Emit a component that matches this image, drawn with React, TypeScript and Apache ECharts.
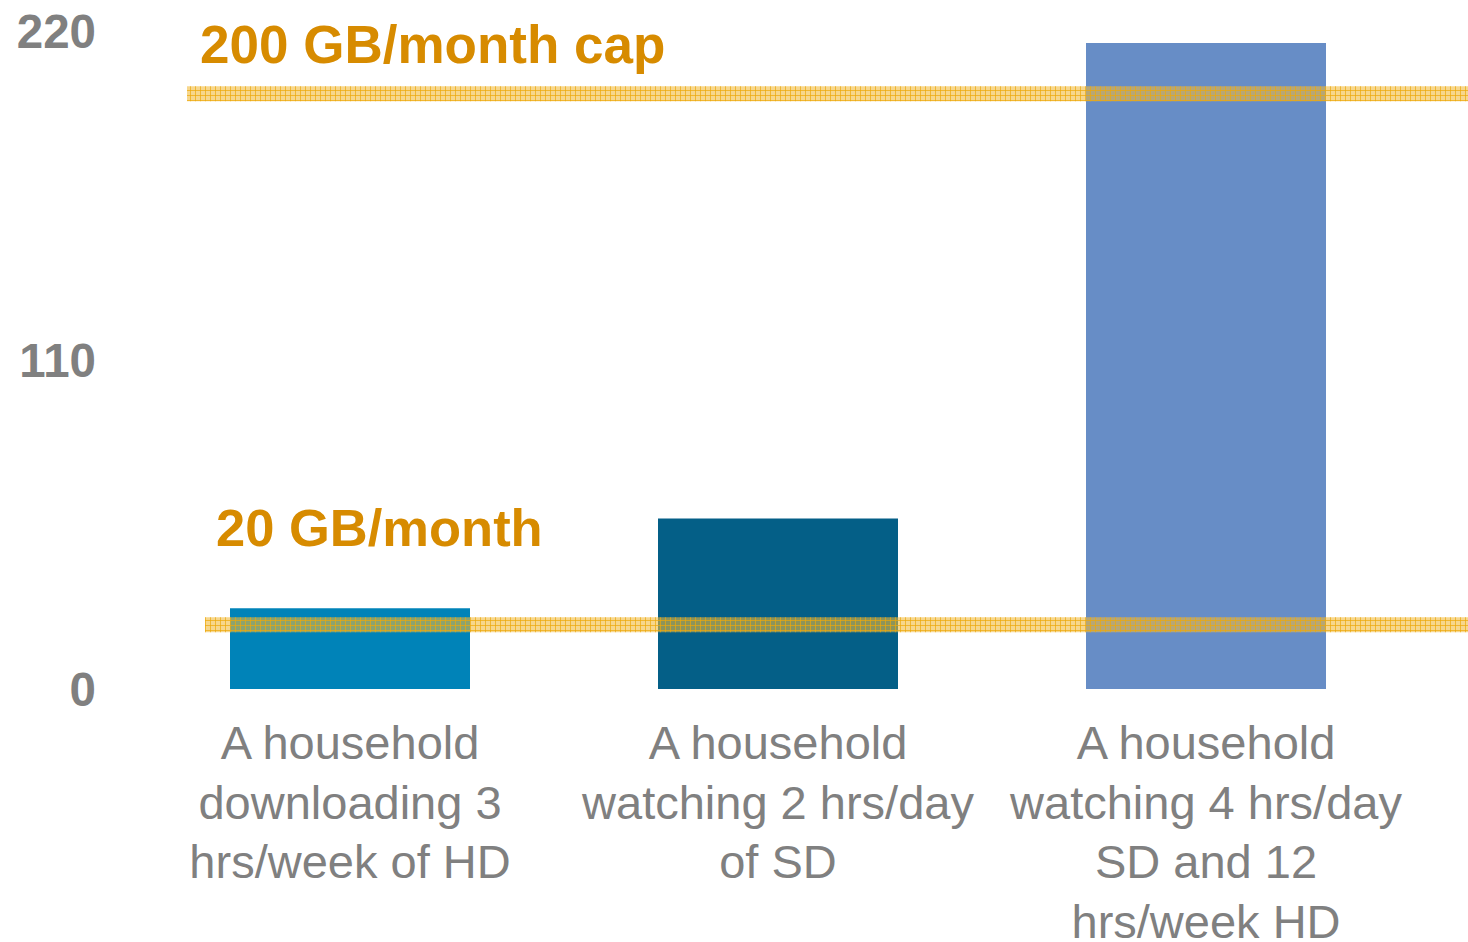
import React, { useEffect, useRef } from "react";
import * as echarts from "echarts";

const categories = [
  "A household\ndownloading 3\nhrs/week of HD",
  "A household\nwatching 2 hrs/day\nof SD",
  "A household\nwatching 4 hrs/day\nSD and 12\nhrs/week HD",
];
const usageValues = [27, 57, 216];
const barColors = ["#0083B8", "#045F87", "#678DC6"];
const yTicks = [0, 110, 220];
const thresholdValues = [199, 21.5];
const thresholdLabels = ["200 GB/month cap", "20 GB/month"];

function makePattern(): string {
  const c = document.createElement("canvas");
  c.width = 5;
  c.height = 5;
  const ctx = c.getContext("2d");
  if (ctx) {
    ctx.fillStyle = "rgba(236,168,10,0.7)";
    ctx.fillRect(0, 0, 1, 5);
    ctx.fillRect(0, 0, 5, 1);
  }
  return c.toDataURL();
}

export default function App() {
  const ref = useRef<HTMLDivElement>(null);
  useEffect(() => {
    if (!ref.current) return;
    const chart = echarts.init(ref.current, null, { renderer: "svg" });
    const font = "'Liberation Sans', Arial, sans-serif";
    chart.setOption({
      animation: false,
      backgroundColor: "#ffffff",
      grid: {
        left: 136,
        right: 48,
        top: 31,
        bottom: 253,
        containLabel: false,
        outerBoundsMode: "none",
      },
      xAxis: {
        type: "category",
        data: categories,
        axisLine: { show: false },
        axisTick: { show: false },
        axisLabel: {
          color: "#808080",
          fontSize: 47,
          fontFamily: font,
          lineHeight: 59.5,
          margin: 24,
          interval: 0,
        },
      },
      yAxis: {
        type: "value",
        min: yTicks[0],
        max: yTicks[yTicks.length - 1],
        interval: yTicks[1] - yTicks[0],
        splitLine: { show: false },
        axisLine: { show: false },
        axisTick: { show: false },
        axisLabel: {
          color: "#808080",
          fontSize: 47.5,
          fontWeight: "bold",
          fontFamily: font,
          margin: 40,
        },
      },
      series: [
        {
          type: "bar",
          barWidth: 240,
          data: usageValues.map((v, i) => ({ value: v, itemStyle: { color: barColors[i] } })),
        },
      ],
    });

    const pattern = makePattern();
    const bandStarts = [187, 205];
    const labelOffsets = [-49, -97];
    const labelLefts = [200, 216];
    const labelSizes = [53, 52.5];
    const graphics: any[] = [];
    thresholdValues.forEach((v, i) => {
      const py = chart.convertToPixel({ yAxisIndex: 0 }, v) as number;
      graphics.push({
        type: "rect",
        z: 100,
        shape: { x: bandStarts[i], y: py - 7.5, width: 1468 - bandStarts[i], height: 15 },
        style: { fill: "rgba(242,186,58,0.58)" },
        silent: true,
      });
      graphics.push({
        type: "rect",
        z: 101,
        shape: { x: bandStarts[i], y: py - 7.5, width: 1468 - bandStarts[i], height: 15 },
        style: { fill: { image: pattern, repeat: "repeat", imageWidth: 5, imageHeight: 5 } },
        silent: true,
      });
      graphics.push({
        type: "text",
        z: 102,
        x: labelLefts[i],
        y: py + labelOffsets[i],
        style: {
          text: thresholdLabels[i],
          fill: "#D78B00",
          font: `bold ${labelSizes[i]}px ${font}`,
          textAlign: "left",
          textVerticalAlign: "middle",
        },
      });
    });
    chart.setOption({ graphic: graphics });
    return () => chart.dispose();
  }, []);
  return (
    <div
      ref={ref}
      style={{ position: "fixed", left: 0, top: 0, width: 1468, height: 942 }}
    />
  );
}
